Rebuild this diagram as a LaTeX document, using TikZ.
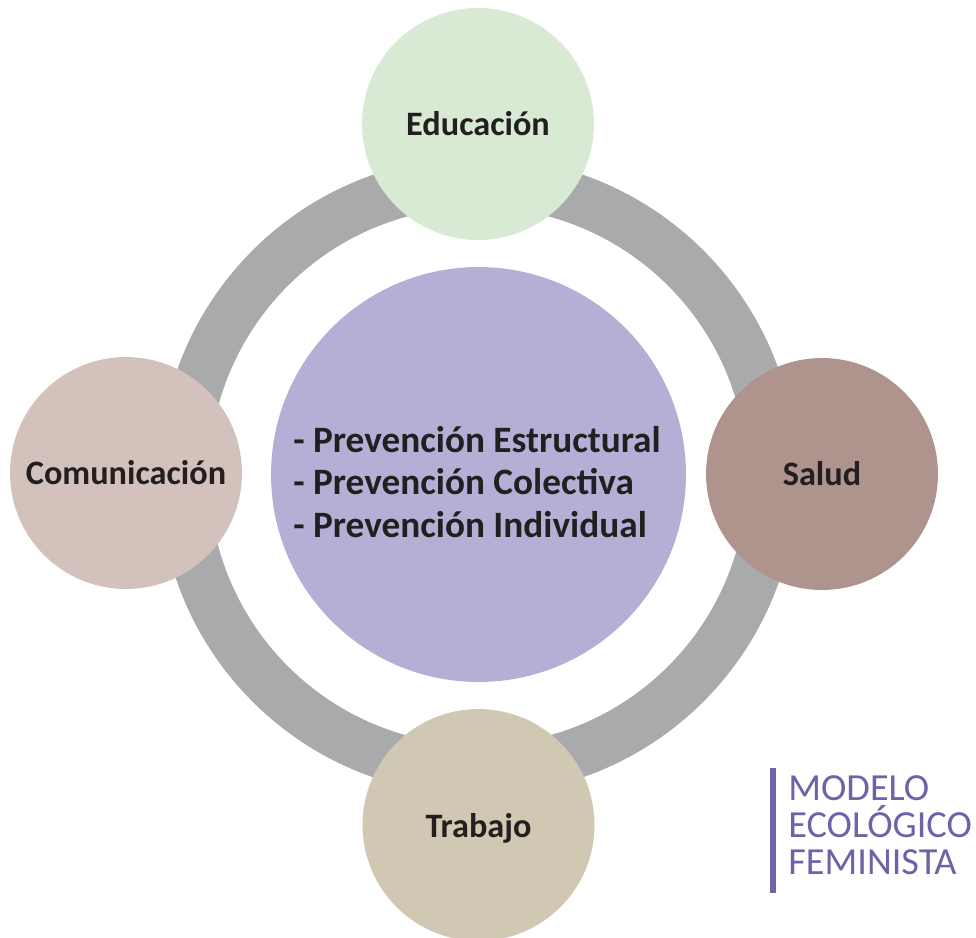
\documentclass[tikz,border=0pt]{standalone}
\usepackage{fontspec}
\setmainfont{Carlito}
\usepackage{xcolor}
\usetikzlibrary{positioning}

\definecolor{ringgray}{HTML}{A9AAAC}
\definecolor{coreviolet}{HTML}{B5AFD5}
\definecolor{edugreen}{HTML}{D8EAD3}
\definecolor{saludrose}{HTML}{AE948C}
\definecolor{comurose}{HTML}{D3C2BB}
\definecolor{trabsand}{HTML}{D1C8B3}
\definecolor{inkdark}{HTML}{231F20}
\definecolor{tagviolet}{HTML}{6C63A9}

\tikzset{
	area/.style={circle, inner sep=0pt, minimum size=4.64cm, text=inkdark, font=\fontsize{19.5}{23}\selectfont\bfseries},
	core/.style={circle, inner sep=0pt, minimum size=8.3cm, fill=coreviolet},
	ring/.style={draw=ringgray, line width=1cm},
}

\begin{document}
\begin{tikzpicture}[x=0.02cm, y=-0.02cm]
	\useasboundingbox (0,0) rectangle (976,937);
	\coordinate (mid) at (478,476);
	\draw[ring] (mid) circle [radius=5.88cm];
	\node (c00) at (478.5,474.5)[core]{};
	\node[align=left, text=inkdark, font=\fontsize{21.2}{24}\selectfont\bfseries] (c01) at (477,482) {- Prevención Estructural\\- Prevención Colectiva\\- Prevención Individual};
	\node (a01) at (478,124)[area, fill=edugreen]{Educación};
	\node (a02) at (822,474)[area, fill=saludrose]{Salud};
	\node (a03) at (126,473)[area, fill=comurose]{Comunicación};
	\node (a04) at (478.5,825)[area, fill=trabsand, text depth=-4pt]{Trabajo};
	\coordinate (t01) at (773,768);
	\coordinate (t02) at (773,893);
	\draw[tagviolet, line width=3pt] (t01) -- (t02);
	\node[anchor=west, inner sep=0pt, align=left, text=tagviolet, font=\fontsize{21.8}{21}\selectfont] (t03) at (788,825) {MODELO\\ECOLÓGICO\\FEMINISTA};
\end{tikzpicture}
\end{document}
